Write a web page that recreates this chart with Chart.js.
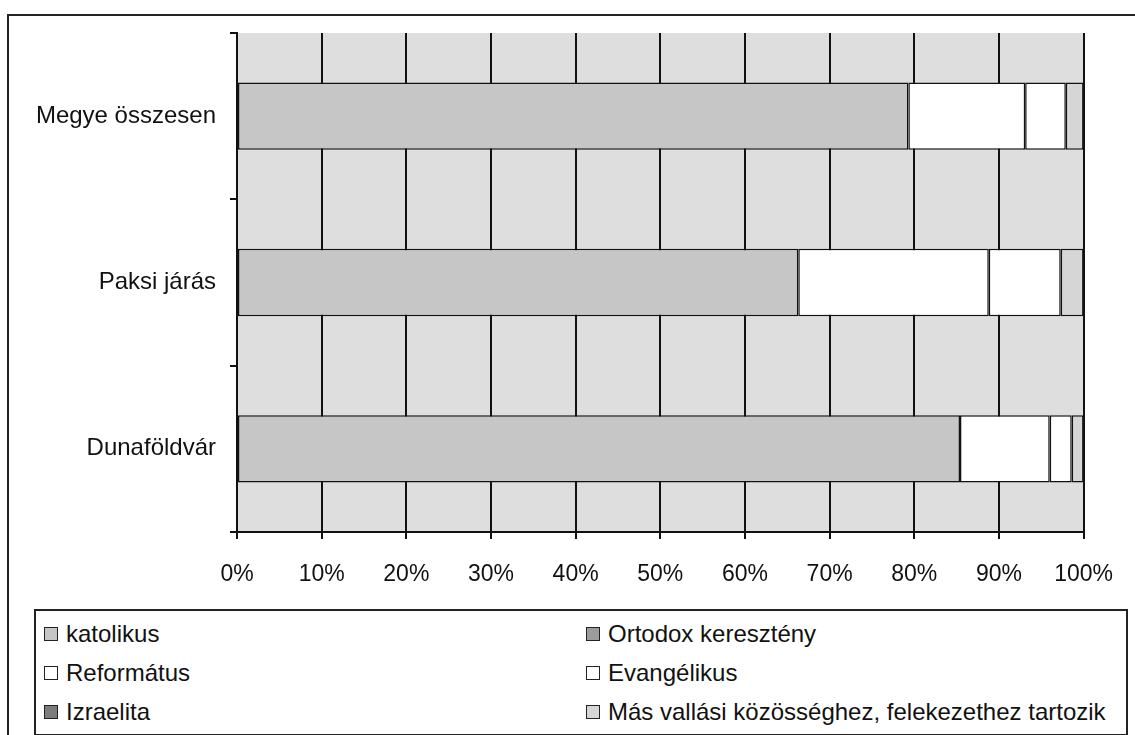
<!DOCTYPE html>
<html>
<head>
<meta charset="utf-8">
<script src="https://cdn.jsdelivr.net/npm/chart.js@4"></script>
<style>
    html, body { margin: 0; padding: 0; background: #fff; overflow: hidden; }
    #wrap { position: relative; width: 1135px; height: 735px; }
    #chart { position: absolute; left: 0; top: 0; }
    #frame {
        position: absolute; left: 7px; top: 14px; width: 1150px; height: 760px;
        border-left: 2px solid #222; border-top: 2px solid #222;
    }
    #legend {
        position: absolute; left: 34px; top: 609px; width: 1090px; height: 123px;
        border: 2px solid #222; background: #fff;
        font-family: "Liberation Sans", Arial, sans-serif; font-size: 24px; color: #111;
    }
    .item { position: absolute; display: flex; align-items: center; height: 30px; white-space: nowrap; }
    .box { width: 12px; height: 12px; border: 1px solid #222; margin-right: 8px; flex: none; }
</style>
</head>
<body>
<div id="wrap">
    <div id="frame"></div>
    <canvas id="chart" width="1135" height="735"></canvas>
    <div id="legend"></div>
</div>
<script>
// Data (percent of population)
const categories = ['Megye összesen', 'Paksi járás', 'Dunaföldvár'];
const seriesNames = ['katolikus', 'Ortodox keresztény', 'Református', 'Evangélikus', 'Izraelita',
    'Más vallási közösséghez, felekezethez tartozik'];
const katolikus = [79.3, 66.3, 85.4];
const ortodox = [0.0, 0.0, 0.0];
const reformatus = [13.8, 22.5, 10.6];
const evangelikus = [4.8, 8.5, 2.6];
const izraelita = [0.0, 0.0, 0.0];
const mas = [2.1, 2.7, 1.4];
const xTicks = [0, 10, 20, 30, 40, 50, 60, 70, 80, 90, 100];

const seriesValues = [katolikus, ortodox, reformatus, evangelikus, izraelita, mas];
const seriesColors = ['#c6c6c6', '#9c9c9c', '#ffffff', '#ffffff', '#7c7c7c', '#d6d6d6'];
const FONT = '"Liberation Sans", Arial, sans-serif';

// grey plot background
const plotBg = {
    id: 'plotBg',
    beforeDraw(chart) {
        const a = chart.chartArea;
        const c = chart.ctx;
        c.save();
        c.fillStyle = '#dedede';
        c.fillRect(a.left, a.top, a.right - a.left, a.bottom - a.top);
        c.restore();
    }
};

new Chart(document.getElementById('chart'), {
    type: 'bar',
    data: {
        labels: categories,
        datasets: seriesNames.map((name, i) => ({
            label: name,
            data: seriesValues[i],
            backgroundColor: seriesColors[i],
            borderColor: '#111',
            borderWidth: 1.5,
            borderSkipped: false,
            categoryPercentage: 1,
            barPercentage: 0.405
        }))
    },
    options: {
        indexAxis: 'y',
        responsive: false,
        animation: false,
        layout: { padding: { top: 33, right: 50, left: 0, bottom: 0 } },
        plugins: {
            legend: { display: false },
            tooltip: { enabled: false }
        },
        scales: {
            x: {
                stacked: true,
                min: 0,
                max: 100,
                afterBuildTicks: (scale) => { scale.ticks = xTicks.map(v => ({ value: v })); },
                afterFit: (scale) => { scale.height = 203; },
                ticks: {
                    callback: (v) => v + '%',
                    color: '#111',
                    font: { family: FONT, size: 23 },
                    padding: 22,
                    maxRotation: 0
                },
                grid: { color: '#111', lineWidth: 2, tickLength: 7 },
                border: { color: '#111', width: 2 }
            },
            y: {
                stacked: true,
                afterFit: (scale) => { scale.width = 237; },
                ticks: {
                    color: '#111',
                    font: { family: FONT, size: 24 },
                    padding: 14
                },
                grid: { drawOnChartArea: false, color: '#111', lineWidth: 2, tickLength: 7 },
                border: { color: '#111', width: 2 }
            }
        }
    },
    plugins: [plotBg]
});

// two-column legend, row-major like the original
const legendEl = document.getElementById('legend');
const colX = [8, 550];
const rowY = [8, 47, 86];
seriesNames.forEach((name, i) => {
    const item = document.createElement('div');
    item.className = 'item';
    item.style.left = colX[i % 2] + 'px';
    item.style.top = rowY[Math.floor(i / 2)] + 'px';
    const box = document.createElement('span');
    box.className = 'box';
    box.style.background = seriesColors[i];
    const txt = document.createElement('span');
    txt.textContent = name;
    item.appendChild(box);
    item.appendChild(txt);
    legendEl.appendChild(item);
});
</script>
</body>
</html>
